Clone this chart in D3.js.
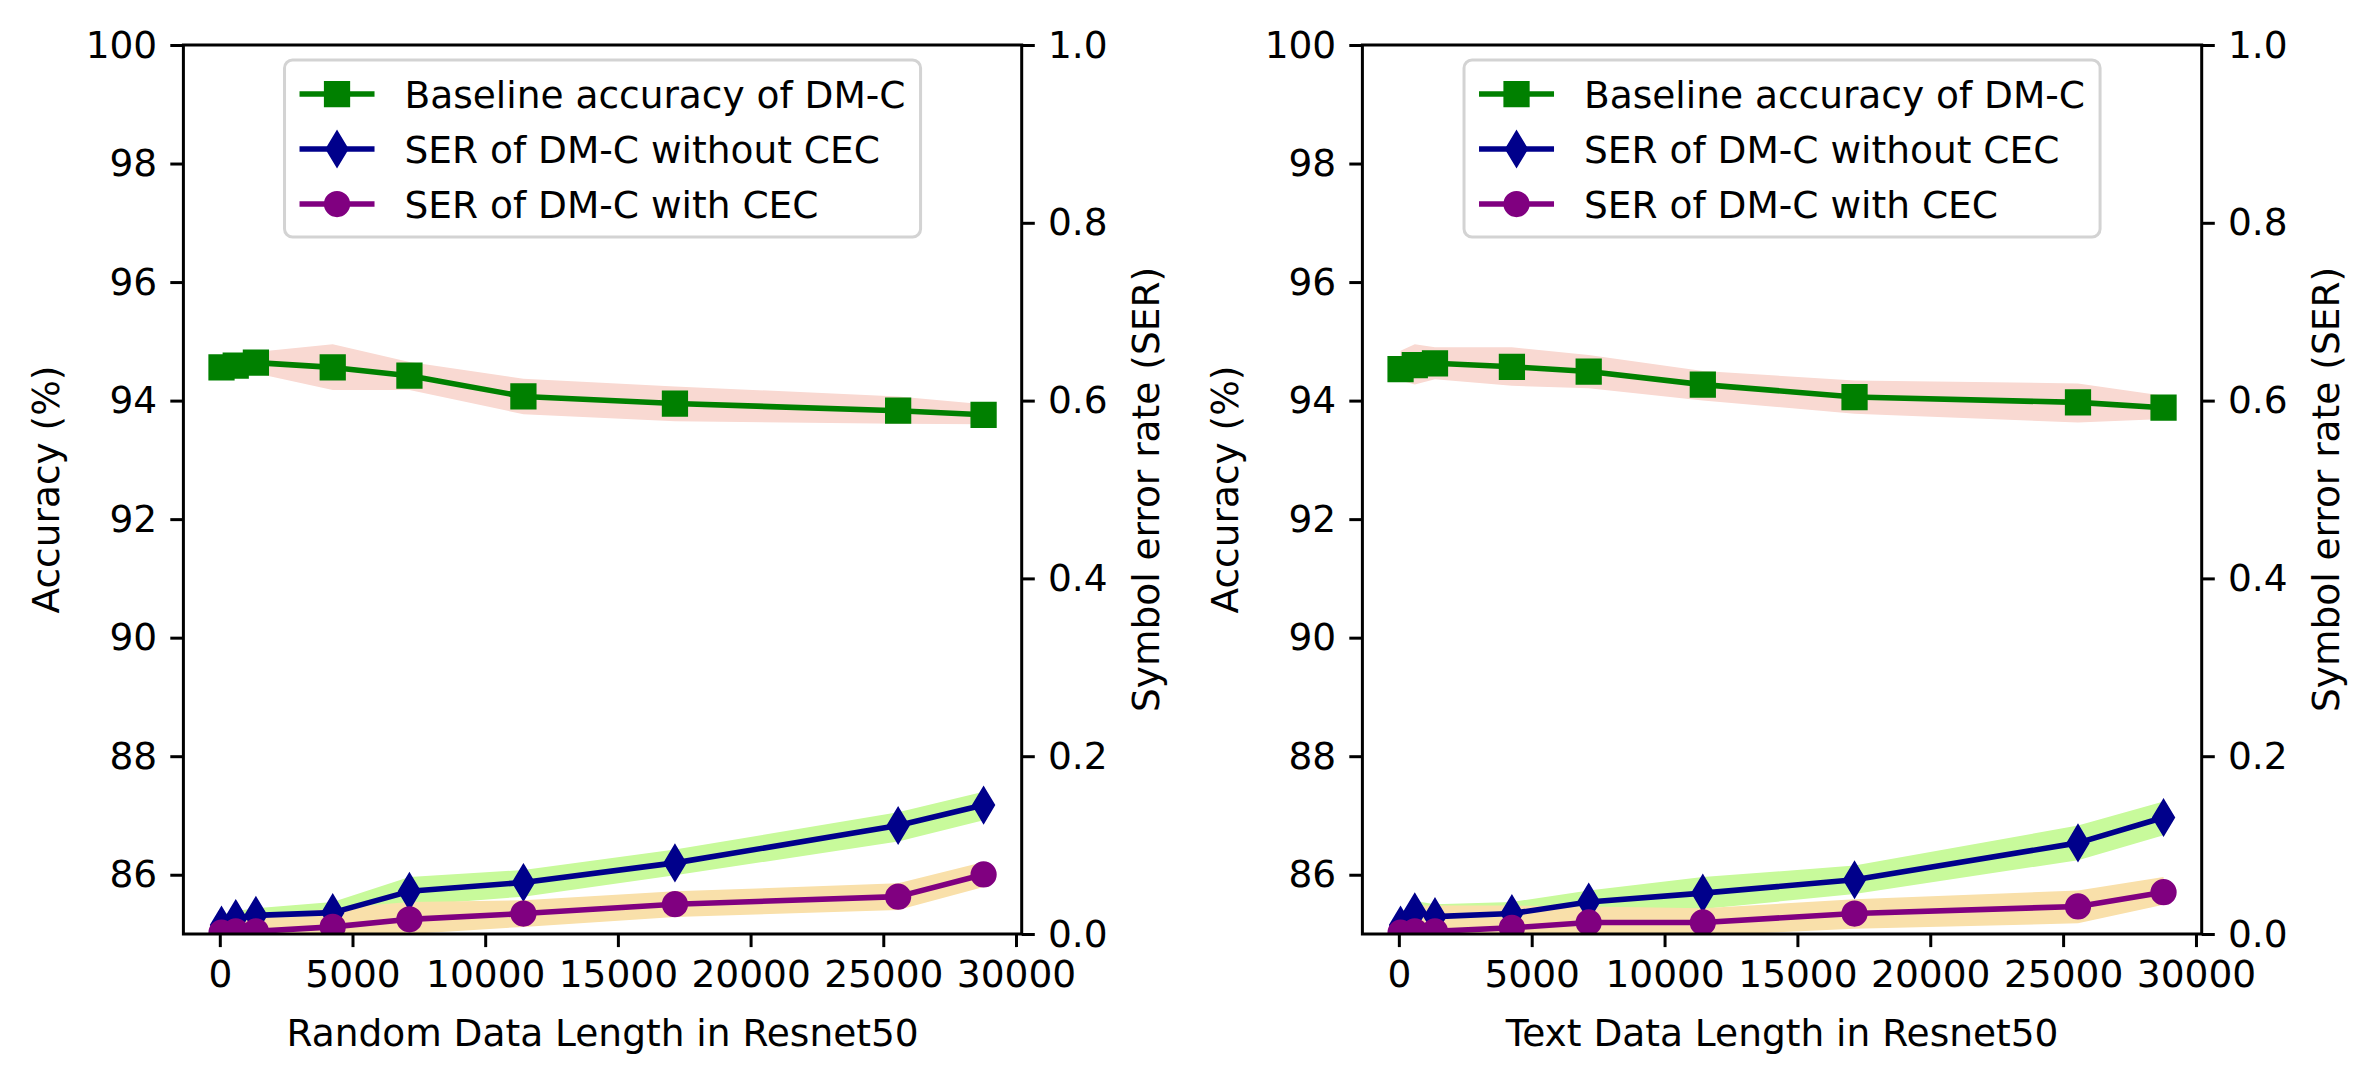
<!DOCTYPE html>
<html><head><meta charset="utf-8">
<script src="https://cdn.jsdelivr.net/npm/d3@7/dist/d3.min.js"></script>
<style>
body{margin:0;background:#fff}
svg{display:block}
text{font-family:"DejaVu Sans",sans-serif;fill:#000}
</style>
</head><body>
<svg id="chart" width="2372" height="1082"></svg>
<script>
// ---------- data ----------
const dataLengths = [64, 600, 1360, 4255, 7145, 11440, 17150, 25560, 28780];

// Random data panel
const randomBaseline      = [94.56, 94.59, 94.64, 94.56, 94.42, 94.07, 93.95, 93.83, 93.76];
const randomBaselineUpper = [94.76, 94.80, 94.82, 94.95, 94.65, 94.37, 94.24, 94.07, 93.94];
const randomBaselineLower = [94.36, 94.38, 94.46, 94.18, 94.18, 93.77, 93.65, 93.61, 93.60];
const randomSerNoCec      = [0.010, 0.0175, 0.021, 0.024, 0.048, 0.058, 0.080, 0.122, 0.145];
const randomSerNoCecUpper = [0.022, 0.026, 0.029, 0.036, 0.064, 0.072, 0.095, 0.137, 0.160];
const randomSerNoCecLower = [0.000, 0.008, 0.012, 0.0175, 0.032, 0.042, 0.066, 0.104, 0.128];
const randomSerCec        = [0.0015, 0.003, 0.003, 0.008, 0.0165, 0.023, 0.0335, 0.042, 0.067];
const randomSerCecUpper   = [0.014, 0.016, 0.019, 0.029, 0.036, 0.038, 0.048, 0.057, 0.081];
const randomSerCecLower   = [-0.008, -0.007, -0.006, -0.005, 0.000, 0.008, 0.019, 0.027, 0.053];

// Text data panel
const textBaseline        = [94.53, 94.60, 94.63, 94.57, 94.49, 94.27, 94.06, 93.97, 93.88];
const textBaselineUpper   = [94.84, 94.95, 94.90, 94.90, 94.77, 94.50, 94.34, 94.29, 94.08];
const textBaselineLower   = [94.34, 94.27, 94.36, 94.25, 94.21, 94.00, 93.78, 93.63, 93.69];
const textSerNoCec        = [0.010, 0.025, 0.0195, 0.023, 0.036, 0.046, 0.061, 0.1025, 0.131];
const textSerNoCecUpper   = [0.020, 0.037, 0.0335, 0.036, 0.049, 0.064, 0.077, 0.122, 0.149];
const textSerNoCecLower   = [0.000, 0.013, 0.006, 0.010, 0.023, 0.028, 0.045, 0.083, 0.111];
const textSerCec          = [0.0015, 0.003, 0.003, 0.007, 0.013, 0.013, 0.023, 0.031, 0.047];
const textSerCecUpper     = [0.025, 0.032, 0.032, 0.032, 0.031, 0.029, 0.039, 0.049, 0.064];
const textSerCecLower     = [-0.010, -0.010, -0.010, -0.008, -0.004, -0.002, 0.006, 0.012, 0.033];

const xTicks   = [0, 5000, 10000, 15000, 20000, 25000, 30000];
const accTicks = [86, 88, 90, 92, 94, 96, 98, 100];
const serTicks = [0.0, 0.2, 0.4, 0.6, 0.8, 1.0];
const accDomain = [85, 100];
const serDomain = [0, 1];

const legendLabels = ["Baseline accuracy of DM-C", "SER of DM-C without CEC", "SER of DM-C with CEC"];
const xAxisLabels  = ["Random Data Length in Resnet50", "Text Data Length in Resnet50"];
const yLeftLabel   = "Accuracy (%)";
const yRightLabel  = "Symbol error rate (SER)";

// ---------- styles ----------
const FS = 37.5;
const TOP = 45, BOTTOM = 934;
const LW = 5.6, MS = 22.5, MEW = 3.75, SPINE = 3, TICK = 13.1, PAD = 13.1;
const COL_BASE = "#008000", COL_NO = "#00008b", COL_CEC = "#800080";
const BAND_BASE = "#f9d9d2", BAND_NO = "#c8fa9b", BAND_CEC = "#f9e0aa";

const panels = [
  { left: 183.4, right: 1021.7, xlabel: xAxisLabels[0],
    base: randomBaseline, baseU: randomBaselineUpper, baseL: randomBaselineLower,
    no: randomSerNoCec, noU: randomSerNoCecUpper, noL: randomSerNoCecLower,
    cec: randomSerCec, cecU: randomSerCecUpper, cecL: randomSerCecLower },
  { left: 1362.4, right: 2201.7, xlabel: xAxisLabels[1],
    base: textBaseline, baseU: textBaselineUpper, baseL: textBaselineLower,
    no: textSerNoCec, noU: textSerNoCecUpper, noL: textSerNoCecLower,
    cec: textSerCec, cecU: textSerCecUpper, cecL: textSerCecLower }
];

const svg = d3.select("#chart");
const defs = svg.append("defs");

function markerPath(kind) {
  if (kind === "s") { const h = MS / 2; return `M${-h},${-h}H${h}V${h}H${-h}Z`; }
  if (kind === "d") { const hh = MS * Math.SQRT2 / 2, hw = 0.6 * hh; return `M0,${-hh}L${hw},0L0,${hh}L${-hw},0Z`; }
  const r = MS / 2;
  return `M${r},0A${r},${r} 0 1,1 ${-r},0A${r},${r} 0 1,1 ${r},0Z`;
}

function drawPanel(p, i) {
  const xmin = d3.min(dataLengths), xmax = d3.max(dataLengths), m = 0.05 * (xmax - xmin);
  const x = d3.scaleLinear().domain([xmin - m, xmax + m]).range([p.left, p.right]);
  const yA = d3.scaleLinear().domain(accDomain).range([BOTTOM, TOP]);
  const yS = d3.scaleLinear().domain(serDomain).range([BOTTOM, TOP]);

  defs.append("clipPath").attr("id", "clip" + i)
    .append("rect").attr("x", p.left).attr("y", TOP)
    .attr("width", p.right - p.left).attr("height", BOTTOM - TOP);

  const g = svg.append("g").attr("clip-path", `url(#clip${i})`);
  const idx = d3.range(dataLengths.length);

  const band = (U, L, y, fill) => g.append("path")
    .datum(idx)
    .attr("d", d3.area().x(j => x(dataLengths[j])).y0(j => y(L[j])).y1(j => y(U[j])))
    .attr("fill", fill);
  band(p.baseU, p.baseL, yA, BAND_BASE);
  band(p.noU, p.noL, yS, BAND_NO);
  band(p.cecU, p.cecL, yS, BAND_CEC);

  const series = (vals, y, col, mk) => {
    g.append("path").datum(idx)
      .attr("d", d3.line().x(j => x(dataLengths[j])).y(j => y(vals[j])))
      .attr("fill", "none").attr("stroke", col).attr("stroke-width", LW)
      .attr("stroke-linejoin", "round");
    g.selectAll(null).data(idx).enter().append("path")
      .attr("d", markerPath(mk))
      .attr("transform", j => `translate(${x(dataLengths[j])},${y(vals[j])})`)
      .attr("fill", col).attr("stroke", col).attr("stroke-width", MEW)
      .attr("stroke-linejoin", "miter");
  };
  series(p.base, yA, COL_BASE, "s");
  series(p.no, yS, COL_NO, "d");
  series(p.cec, yS, COL_CEC, "o");

  // axes
  const styleAxis = (sel) => {
    sel.select(".domain").remove();
    sel.selectAll(".tick line").attr("stroke", "#000").attr("stroke-width", SPINE);
    sel.selectAll(".tick text").attr("font-size", FS).attr("font-family", "DejaVu Sans").attr("fill", "#000");
  };
  svg.append("g").attr("transform", `translate(0,${BOTTOM})`)
    .call(d3.axisBottom(x).tickValues(xTicks).tickFormat(d3.format("d")).tickSize(TICK).tickPadding(PAD))
    .call(styleAxis);
  svg.append("g").attr("transform", `translate(${p.left},0)`)
    .call(d3.axisLeft(yA).tickValues(accTicks).tickFormat(d3.format("d")).tickSize(TICK).tickPadding(PAD))
    .call(styleAxis);
  svg.append("g").attr("transform", `translate(${p.right},0)`)
    .call(d3.axisRight(yS).tickValues(serTicks).tickFormat(d3.format(".1f")).tickSize(TICK).tickPadding(PAD))
    .call(styleAxis);

  svg.append("rect").attr("x", p.left).attr("y", TOP)
    .attr("width", p.right - p.left).attr("height", BOTTOM - TOP)
    .attr("fill", "none").attr("stroke", "#000").attr("stroke-width", SPINE);

  // axis labels
  svg.append("text").attr("x", (p.left + p.right) / 2).attr("y", 1046)
    .attr("text-anchor", "middle").attr("font-size", FS).text(p.xlabel);
  const cy = (TOP + BOTTOM) / 2;
  svg.append("text").attr("transform", `translate(${p.left - 124},${cy}) rotate(-90)`)
    .attr("text-anchor", "middle").attr("font-size", FS).text(yLeftLabel);
  svg.append("text").attr("transform", `translate(${p.right + 137},${cy}) rotate(-90)`)
    .attr("text-anchor", "middle").attr("font-size", FS).text(yRightLabel);

  // legend
  const lg = svg.append("g");
  const bp = 0.4 * FS, hl = 2 * FS, htp = 0.8 * FS;
  const texts = legendLabels.map(t => lg.append("text").attr("font-size", FS).text(t));
  const tw = d3.max(texts, t => t.node().getComputedTextLength());
  const lw = 2 * bp + hl + htp + tw;
  const lx = (p.left + p.right) / 2 - lw / 2, ly = 60, lh = 177;
  lg.insert("rect", "text").attr("x", lx).attr("y", ly).attr("width", lw).attr("height", lh)
    .attr("rx", 8).attr("fill", "#fff").attr("fill-opacity", 0.8)
    .attr("stroke", "#d3d3d3").attr("stroke-width", 3);
  const cols = [COL_BASE, COL_NO, COL_CEC], mks = ["s", "d", "o"];
  legendLabels.forEach((t, k) => {
    const ry = ly + 34 + k * 55;
    lg.append("line").attr("x1", lx + bp).attr("x2", lx + bp + hl).attr("y1", ry).attr("y2", ry)
      .attr("stroke", cols[k]).attr("stroke-width", LW);
    lg.append("path").attr("d", markerPath(mks[k]))
      .attr("transform", `translate(${lx + bp + hl / 2},${ry})`)
      .attr("fill", cols[k]).attr("stroke", cols[k]).attr("stroke-width", MEW);
    texts[k].attr("x", lx + bp + hl + htp).attr("y", ry).attr("dy", "0.36em").raise();
  });
}

panels.forEach(drawPanel);
</script>
</body></html>
